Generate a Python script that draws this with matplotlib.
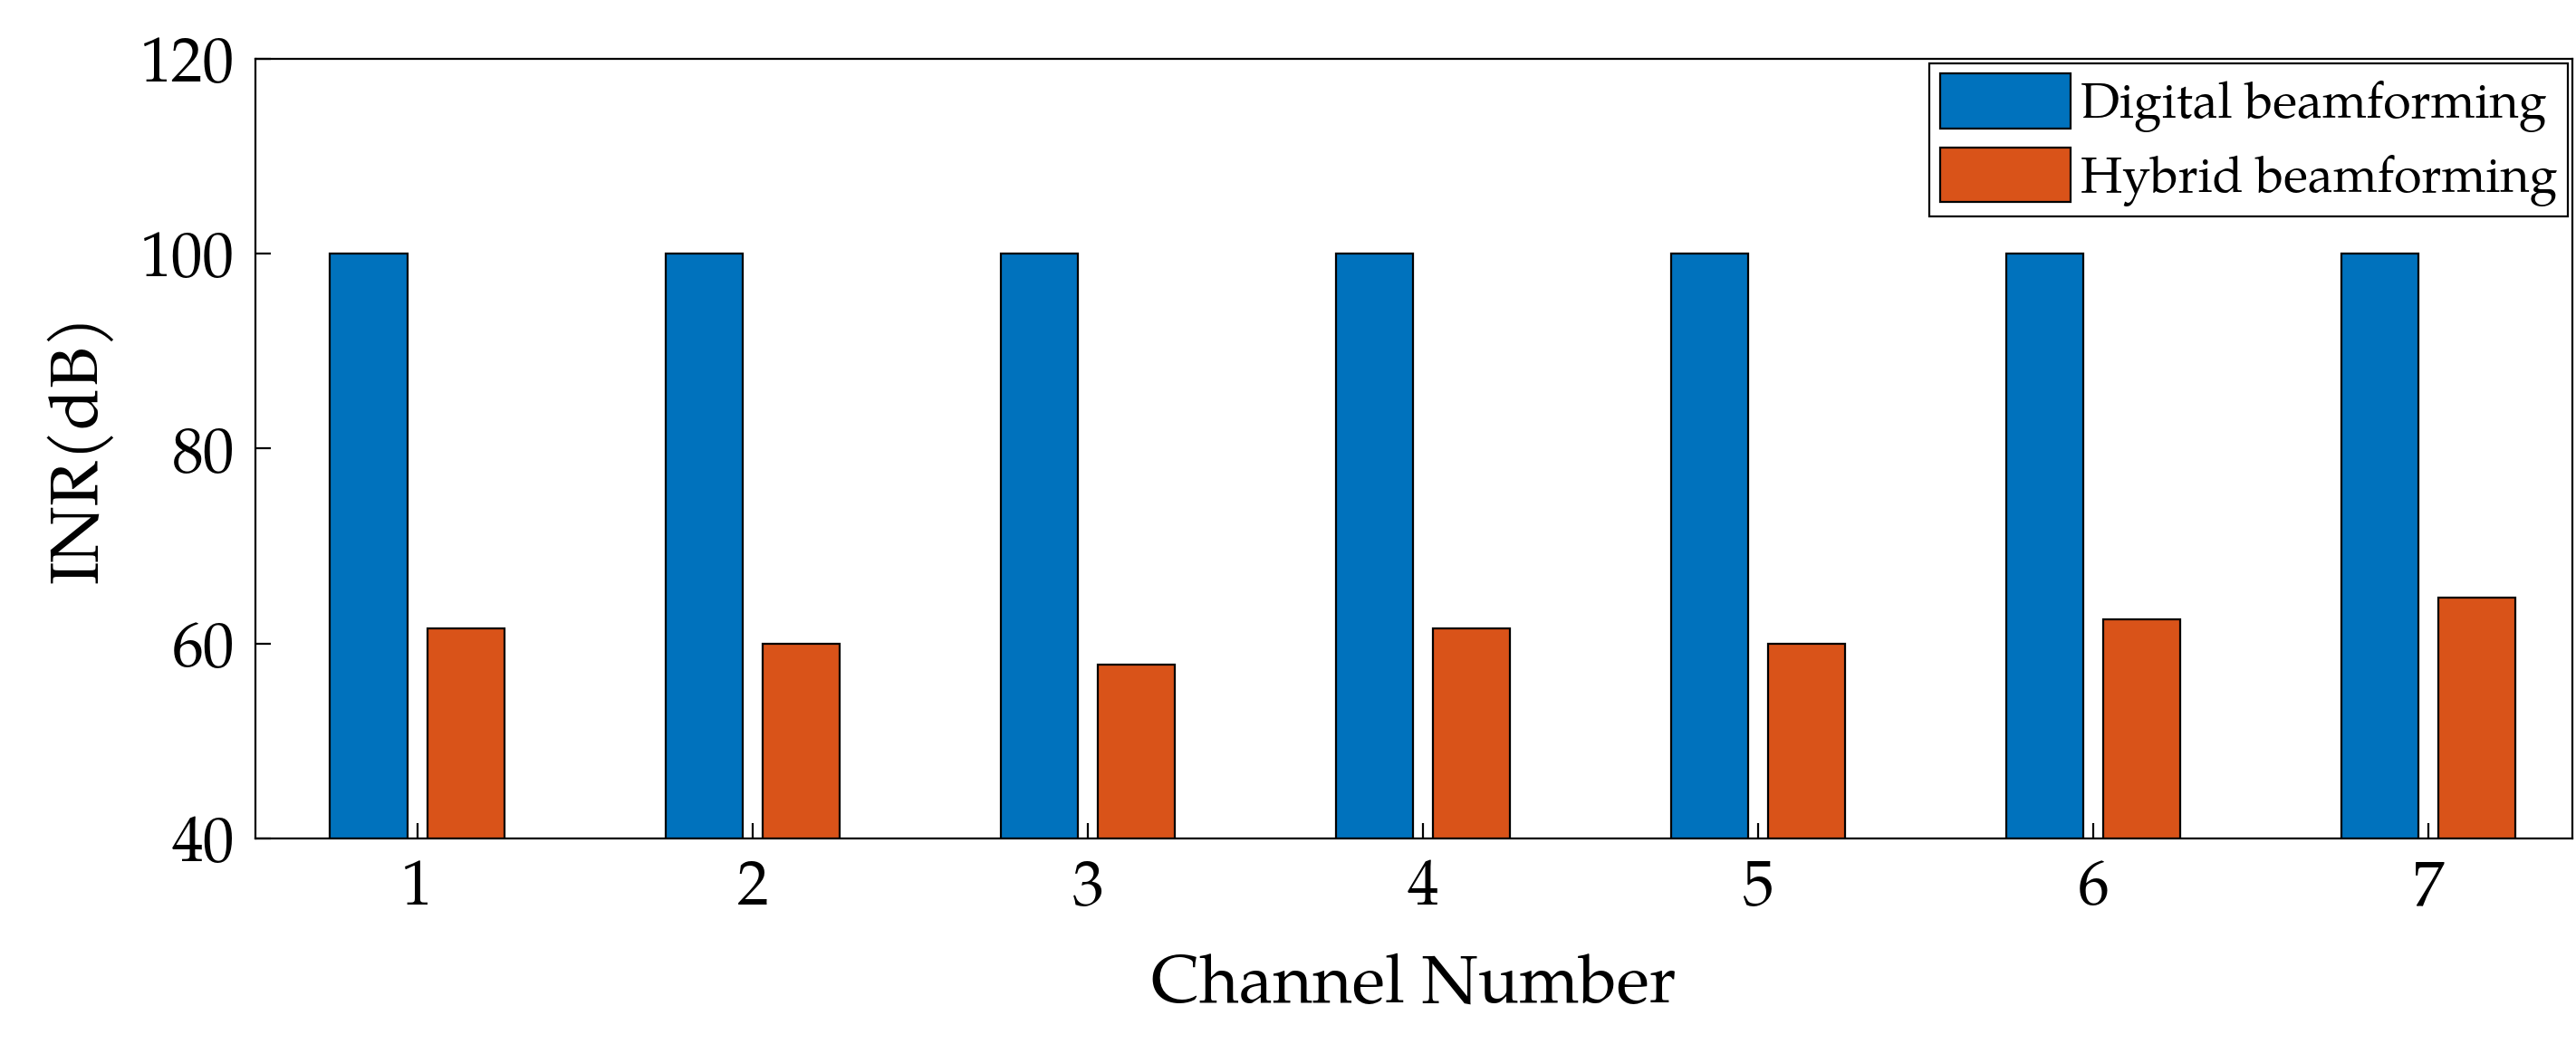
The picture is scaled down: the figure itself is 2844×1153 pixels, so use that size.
import numpy as np
import matplotlib.pyplot as plt

plt.rcParams['font.family'] = ['TeX Gyre Pagella', 'Liberation Serif', 'DejaVu Serif']

channels = [1, 2, 3, 4, 5, 6, 7]
digital = [100, 100, 100, 100, 100, 100, 100]
hybrid = [61.5, 60.0, 57.8, 61.5, 60.0, 62.5, 64.7]

fig = plt.figure(figsize=(14.22, 5.765), dpi=200)
ax = fig.add_axes([0.099, 0.197, 0.8997, 0.747])

x = np.array(channels)
w = 0.23
ax.bar(x - 0.145, digital, w, bottom=0, color='#0072BD', edgecolor='black', linewidth=0.8,
       label='Digital beamforming')
ax.bar(x + 0.145, hybrid, w, bottom=0, color='#D95319', edgecolor='black', linewidth=0.8,
       label='Hybrid beamforming')

ax.set_xlim(0.516, 7.43)
ax.set_ylim(40, 120)
ax.set_xticks(channels)
ax.set_yticks([40, 60, 80, 100, 120])
ax.tick_params(direction='in', length=6, width=0.8, labelsize=25, pad=8, top=False, right=False)
for s in ax.spines.values():
    s.set_linewidth(0.8)
ax.set_xlabel('Channel Number', fontsize=27, labelpad=12)
ax.set_ylabel('INR(dB)', fontsize=27, labelpad=10)

leg = ax.legend(loc='upper right', fontsize=20, fancybox=False, framealpha=1,
                edgecolor='black', borderpad=0.2, handlelength=2.6, handleheight=1.3,
                handletextpad=0.2, labelspacing=0.3, borderaxespad=0.1)
leg.get_frame().set_linewidth(0.8)

fig.savefig('out.png', dpi=200)
